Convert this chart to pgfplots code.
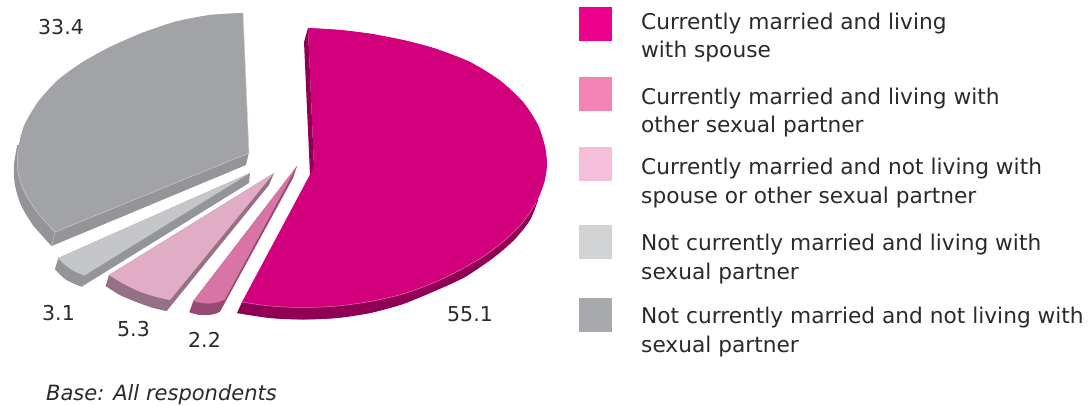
\documentclass[border=0pt]{standalone}
\usepackage{pgfplots}
\pgfplotsset{compat=1.18}
\usepackage{fontspec}
\setmainfont{DejaVu Sans}
\definecolor{txt}{HTML}{2B2A2B}
\definecolor{gS}{RGB}{148,149,152}
\definecolor{gT}{RGB}{162,163,166}
\definecolor{gE}{RGB}{205,205,208}
\definecolor{lS}{RGB}{147,149,152}
\definecolor{lT}{RGB}{196,198,202}
\definecolor{pS}{RGB}{150,113,134}
\definecolor{pT}{RGB}{224,173,197}
\definecolor{mS}{RGB}{150,74,115}
\definecolor{mT}{RGB}{216,117,166}
\definecolor{dS}{RGB}{143,0,84}
\definecolor{dT}{RGB}{211,0,125}
\definecolor{dE}{RGB}{232,110,176}
\begin{document}
\begin{tikzpicture}
\path[use as bounding box] (0,0) rectangle (1091pt,406pt);
\begin{axis}[x=1pt,y=1pt,y dir=reverse,xmin=0,xmax=1091,ymin=0,ymax=406,hide axis,clip=false,scale only axis,anchor=south west,at={(0,0)},
  every axis plot/.append style={draw=none},
  arc/.style={smooth,tension=0.5},
  sf/.style={fill=#1},
  ]
% ---- 33.4: rim and cut side, then top face
\addplot[sf=gS,arc] coordinates {(17.3,145)(14,166)(15,185)(21,205)(33,225)(51.7,246)};
\addplot[sf=gS] coordinates {(17.3,145)(14,166)(15,185)(21,205)(33,225)(51.7,246)(246,165)(249,152)} -- cycle;
\addplot[sf=gT,arc] coordinates {(243,13)(210,15)(176,21.5)(142,33)(110,47)(82,62.5)(58,80)(38,102)(24,126)(18,150)(18,172)(25,193)(38,213)(55,232)};
\addplot[sf=gT] coordinates {(243,13)(210,15)(176,21.5)(142,33)(110,47)(82,62.5)(58,80)(38,102)(24,126)(18,150)(18,172)(25,193)(38,213)(55,232)(249,153)} -- cycle;
\addplot[draw=gE,line width=0.5pt] coordinates {(55,232)(249,153)};
\addplot[draw=gE,line width=0.5pt] coordinates {(243,13)(249,153)};
\addplot[draw=gE,line width=0.4pt] coordinates {(55,232)(51.7,246)};
\addplot[draw=gE,line width=0.5pt,arc] coordinates {(18,150)(18,172)(25,193)(38,213)(55,232)};
% ---- 3.1
\addplot[sf=lS,arc] coordinates {(55,269)(60,274.5)(66.7,280)(74,283.5)(81.7,286.7)};
\addplot[sf=lS] coordinates {(250,173)(249,183)(81.7,286.7)(74,283.5)(66.7,280)(60,274.5)(55,269)(58.3,258)} -- cycle;
\addplot[sf=lT,arc] coordinates {(58.3,258)(63,263)(70,268.5)(77,272.5)(84.5,275.5)};
\addplot[sf=lT] coordinates {(250,173)(58.3,258)(63,263)(70,268.5)(77,272.5)(84.5,275.5)} -- cycle;
% ---- 5.3
\addplot[sf=pS,arc] coordinates {(105.7,286)(120,295)(136.7,302)(152,307.5)(166.7,311)};
\addplot[sf=pS] coordinates {(274,173)(269,185)(166.7,311)(152,307.5)(136.7,302)(120,295)(105.7,286)(109,275)} -- cycle;
\addplot[sf=pT,arc] coordinates {(109,275)(124,284)(140,291.7)(155,296.5)(170,300)};
\addplot[sf=pT] coordinates {(274,173)(109,275)(124,284)(140,291.7)(155,296.5)(170,300)} -- cycle;
% ---- 2.2
\addplot[sf=mS,arc] coordinates {(189.3,312.3)(198,314.5)(206.7,315)(214,314)(220,311.7)};
\addplot[sf=mS] coordinates {(297,166)(293,178)(220,311.7)(214,314)(206.7,315)(198,314.5)(189.3,312.3)(193.3,301)} -- cycle;
\addplot[sf=mT,arc] coordinates {(193.3,301)(201,302.8)(210,303.3)(218,302)(225,299)};
\addplot[sf=mT] coordinates {(297,166)(193.3,301)(201,302.8)(210,303.3)(218,302)(225,299)} -- cycle;
% ---- 55.1
\addplot[sf=dS,arc] coordinates {(237,313)(270,318)(303,319.5)(337,318)(370,313)(403,304)(437,290)(465,277)(493,258)(514,240)(530,220)(538,200)};
\addplot[sf=dS] coordinates {(242,302)(237,313)(270,318)(303,319.5)(337,318)(370,313)(403,304)(437,290)(465,277)(493,258)(514,240)(530,220)(538,200)} -- cycle;
\addplot[sf=dT,arc] coordinates {(308,28)(340,30)(372,34)(405,40.5)(435,48.5)(470,62)(500,80.5)(523,102)(538,125)(545,147)(547,165)};
\addplot[sf=dT,arc] coordinates {(545,147)(547,165)(544,183)(536,203)(523,222)(505,240)(484,256)(460,270)(433,283)(403,294)(370,301.5)(337,306)(303,307.5)(270,306)(242,302)};
\addplot[sf=dT] coordinates {(308,28)(340,30)(372,34)(405,40.5)(435,48.5)(470,62)(500,80.5)(523,102)(538,125)(545,147)(547,165)(544,183)(536,203)(523,222)(505,240)(484,256)(460,270)(433,283)(403,294)(370,301.5)(337,306)(303,307.5)(270,306)(242,302)(314,167)} -- cycle;
\addplot[draw=dE,line width=0.5pt,arc] coordinates {(536,203)(523,222)(505,240)(484,256)(460,270)(433,283)(403,294)(370,301.5)(337,306)(303,307.5)(270,306)(242,302)};
\addplot[sf=dS] coordinates {(308,28)(304,42)(310,175)(314,167)} -- cycle;
% ---- legend squares
\addplot[fill={rgb,255:red,236;green,0;blue,140}] coordinates {(579,7)(612,7)(612,41)(579,41)} -- cycle;
\addplot[fill={rgb,255:red,244;green,132;blue,180}] coordinates {(579,77)(612,77)(612,111)(579,111)} -- cycle;
\addplot[fill={rgb,255:red,246;green,191;blue,217}] coordinates {(579,147)(612,147)(612,181)(579,181)} -- cycle;
\addplot[fill={rgb,255:red,209;green,211;blue,212}] coordinates {(579,225)(612,225)(612,259)(579,259)} -- cycle;
\addplot[fill={rgb,255:red,167;green,169;blue,172}] coordinates {(579,298)(612,298)(612,332)(579,332)} -- cycle;
% ---- text
\tikzset{t/.style={anchor=base west,inner sep=0pt,text=txt,font=\fontsize{21.7}{26}\selectfont}}
\tikzset{n/.style={anchor=base west,inner sep=0pt,text=txt,font=\fontsize{20.5}{26}\selectfont}}
\node[t] at (axis cs:641,30) {Currently married and living};
\node[t] at (axis cs:641,58) {with spouse};
\node[t] at (axis cs:641,105) {Currently married and living with};
\node[t] at (axis cs:641,133) {other sexual partner};
\node[t] at (axis cs:641,175) {Currently married and not living with};
\node[t] at (axis cs:641,203) {spouse or other sexual partner};
\node[t] at (axis cs:641,250) {Not currently married and living with};
\node[t] at (axis cs:641,279) {sexual partner};
\node[t] at (axis cs:641,323) {Not currently married and not living with};
\node[t] at (axis cs:641,352) {sexual partner};
\node[n] at (axis cs:38,35) {33.4};
\node[n] at (axis cs:447,321) {55.1};
\node[n] at (axis cs:42,320) {3.1};
\node[n] at (axis cs:117,336) {5.3};
\node[n] at (axis cs:188,347) {2.2};
\node[anchor=base west,inner sep=0pt,text=txt,font=\fontsize{21}{26}\selectfont] at (axis cs:46,400) {\itshape Base: All respondents};
\end{axis}
\end{tikzpicture}
\end{document}
